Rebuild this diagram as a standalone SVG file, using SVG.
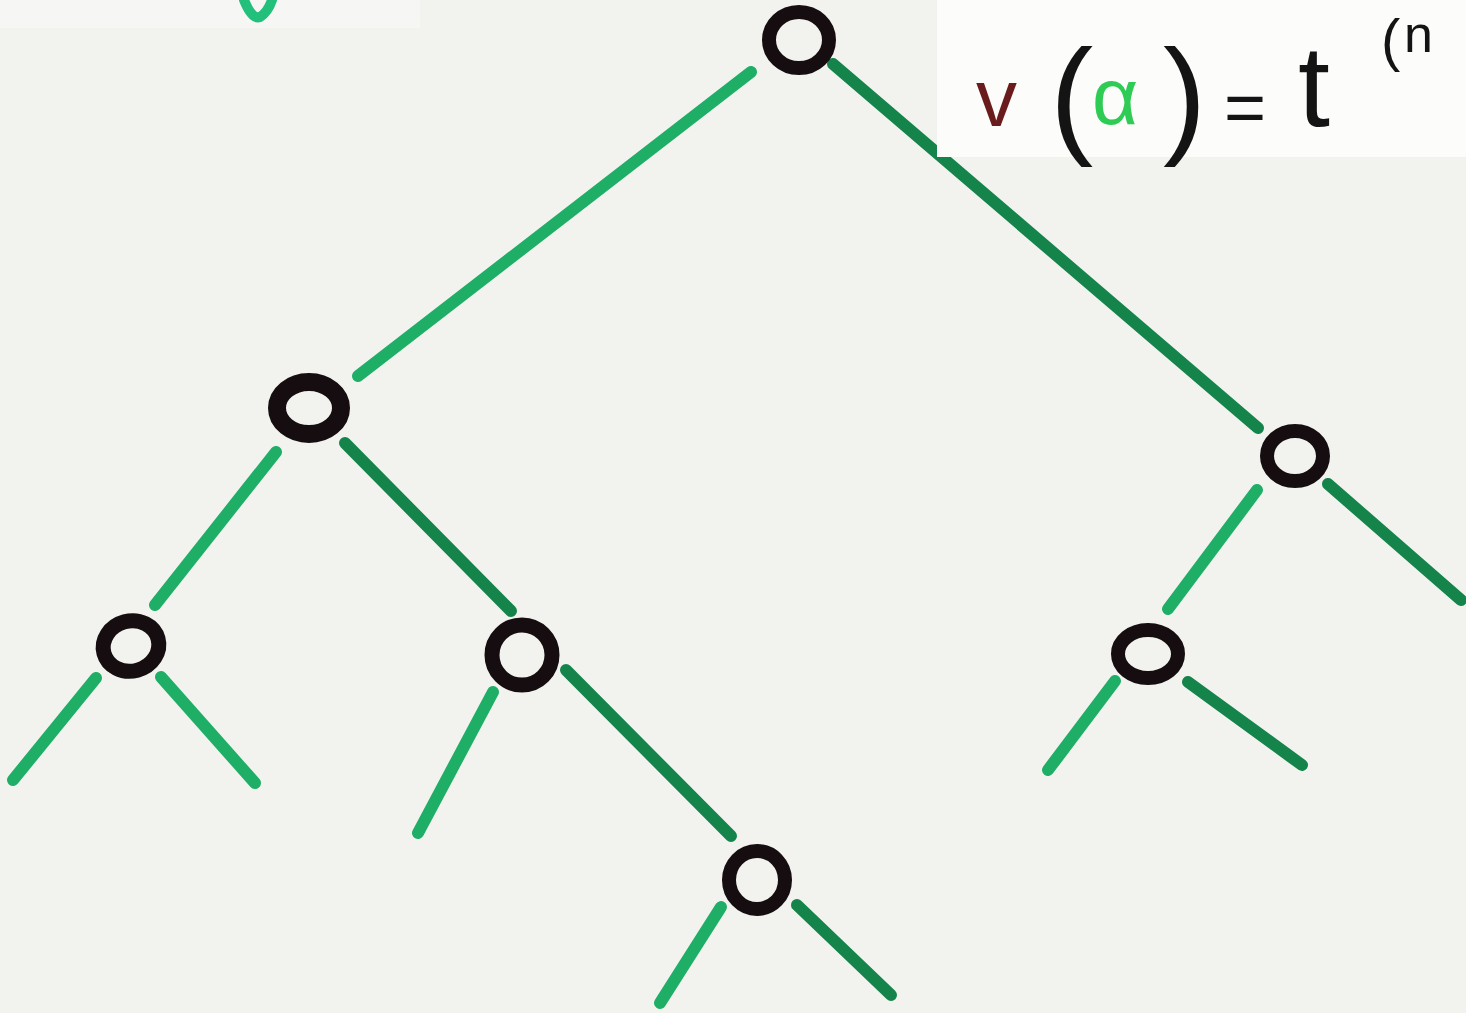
<svg xmlns="http://www.w3.org/2000/svg" width="1466" height="1013" viewBox="0 0 1466 1013">
<style>
.e{fill:none;stroke-width:12;stroke-linecap:round}
.lg{stroke:#1fae66}
.dg{stroke:#14844a}
.n{fill:none;stroke:#160d10}
.t{font-family:"Liberation Sans",Arial,sans-serif;fill:#141414}
</style>
<rect width="1466" height="1013" fill="#f2f3ef"/>
<rect x="0" y="0" width="420" height="28" fill="#f6f6f5"/>
<path d="M244,0 Q252,20 260,17 Q268,12 272,0" fill="none" stroke="#22c07a" stroke-width="10" stroke-linecap="round"/>
<g id="connectors">
<line class="e lg" x1="751" y1="72" x2="358" y2="376"/>
<line class="e dg" x1="833" y1="64" x2="1258" y2="428"/>
<line class="e lg" x1="276" y1="452" x2="155" y2="605"/>
<line class="e dg" x1="345" y1="443" x2="511" y2="611"/>
<line class="e lg" x1="96" y1="678" x2="13" y2="780"/>
<line class="e lg" x1="161" y1="677" x2="255" y2="783"/>
<line class="e lg" x1="493" y1="692" x2="418" y2="833"/>
<line class="e dg" x1="566" y1="670" x2="731" y2="836"/>
<line class="e lg" x1="721" y1="907" x2="660" y2="1003"/>
<line class="e dg" x1="797" y1="905" x2="891" y2="995"/>
<line class="e lg" x1="1257" y1="490" x2="1168" y2="609"/>
<line class="e dg" x1="1328" y1="484" x2="1461" y2="600"/>
<line class="e lg" x1="1115" y1="681" x2="1048" y2="770"/>
<line class="e dg" x1="1188" y1="682" x2="1302" y2="765"/>
</g>
<g id="node-root"><ellipse class="n" cx="799" cy="40" rx="30" ry="28" stroke-width="14"/></g>
<g id="node-l1"><ellipse class="n" cx="309" cy="408" rx="32" ry="26" stroke-width="18"/></g>
<g id="node-r1"><ellipse class="n" cx="1295" cy="456" rx="28" ry="25" stroke-width="14"/></g>
<g id="node-ll"><ellipse class="n" cx="131" cy="646" rx="28" ry="25" stroke-width="15" transform="rotate(-15 131 646)"/></g>
<g id="node-lr"><ellipse class="n" cx="522" cy="655" rx="30" ry="30" stroke-width="15"/></g>
<g id="node-rl"><ellipse class="n" cx="1148" cy="654" rx="30" ry="24" stroke-width="14"/></g>
<g id="node-lrr"><ellipse class="n" cx="757" cy="880" rx="28" ry="29" stroke-width="14"/></g>
<g id="label">
<rect x="937" y="0" width="529" height="157" fill="#fcfcfb"/>
<text class="t" x="976" y="126" font-size="82" style="fill:#6a1b1b">v</text>
<text class="t" x="1050" y="140" font-size="130">(</text>
<text class="t" x="1092" y="124" font-size="80" style="fill:#2fcc55">α</text>
<text class="t" x="1163" y="140" font-size="130">)</text>
<text class="t" x="1224" y="132" font-size="72">=</text>
<text class="t" x="1298" y="126" font-size="115">t</text>
<text class="t" x="1381" y="60" font-size="58">(</text>
<text class="t" x="1404" y="52" font-size="52">n</text>
</g>
</svg>
